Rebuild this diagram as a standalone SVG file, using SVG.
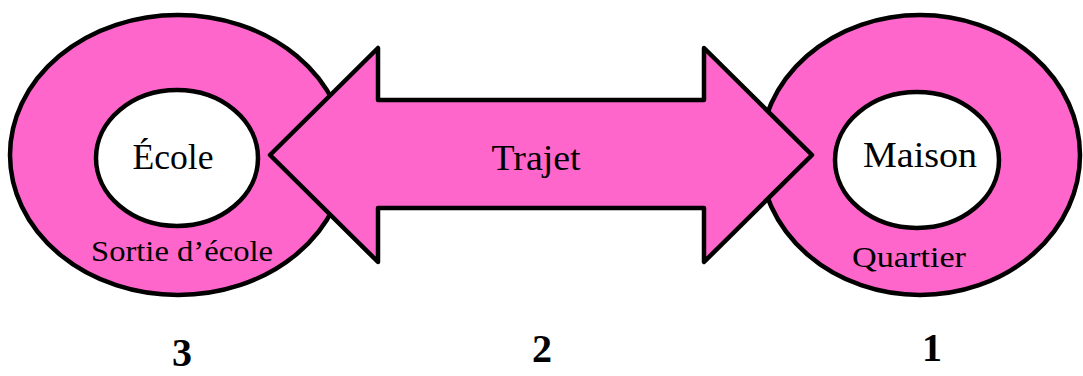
<svg xmlns="http://www.w3.org/2000/svg" width="1083" height="376" viewBox="0 0 1083 376">
<style>
.outer{fill:#FF66CC;stroke:#000;stroke-width:4.5}
.inner{fill:#fff;stroke:#000;stroke-width:4.5}
.arrow{fill:#FF66CC;stroke:#000;stroke-width:4.5;stroke-linejoin:round}
.t{font-family:"Liberation Serif","DejaVu Serif",serif;fill:#000;text-anchor:middle}
.big{font-size:35px}
.small{font-size:30px}
.num{font-size:40px;font-weight:bold}
</style>
<rect width="1083" height="376" fill="#fff"/>
<g id="ecole">
<ellipse class="outer" cx="178" cy="155" rx="168" ry="140"/>
<ellipse class="inner" cx="177" cy="158" rx="81" ry="68"/>
<text class="t big" x="173" y="169" textLength="81" lengthAdjust="spacingAndGlyphs">École</text>
<text class="t small" x="182" y="261" textLength="182" lengthAdjust="spacingAndGlyphs">Sortie d’école</text>
</g>
<g id="maison">
<ellipse class="outer" cx="920" cy="155" rx="160" ry="140"/>
<ellipse class="inner" cx="917" cy="160" rx="82" ry="68"/>
<text class="t big" x="920" y="167" textLength="114" lengthAdjust="spacingAndGlyphs">Maison</text>
<text class="t small" x="909" y="267" textLength="114" lengthAdjust="spacingAndGlyphs">Quartier</text>
</g>
<g id="connectors">
<g id="trajet">
<polygon class="arrow" points="270,155 378,48 378,100 704,100 704,48 812,155 704,262 704,208 378,208 378,262"/>
<text class="t big" x="536" y="170" textLength="89" lengthAdjust="spacingAndGlyphs">Trajet</text>
</g>
</g>
<g id="numbers">
<text class="t num" x="182" y="366">3</text>
<text class="t num" x="542" y="362">2</text>
<text class="t num" x="932" y="361">1</text>
</g>
</svg>
